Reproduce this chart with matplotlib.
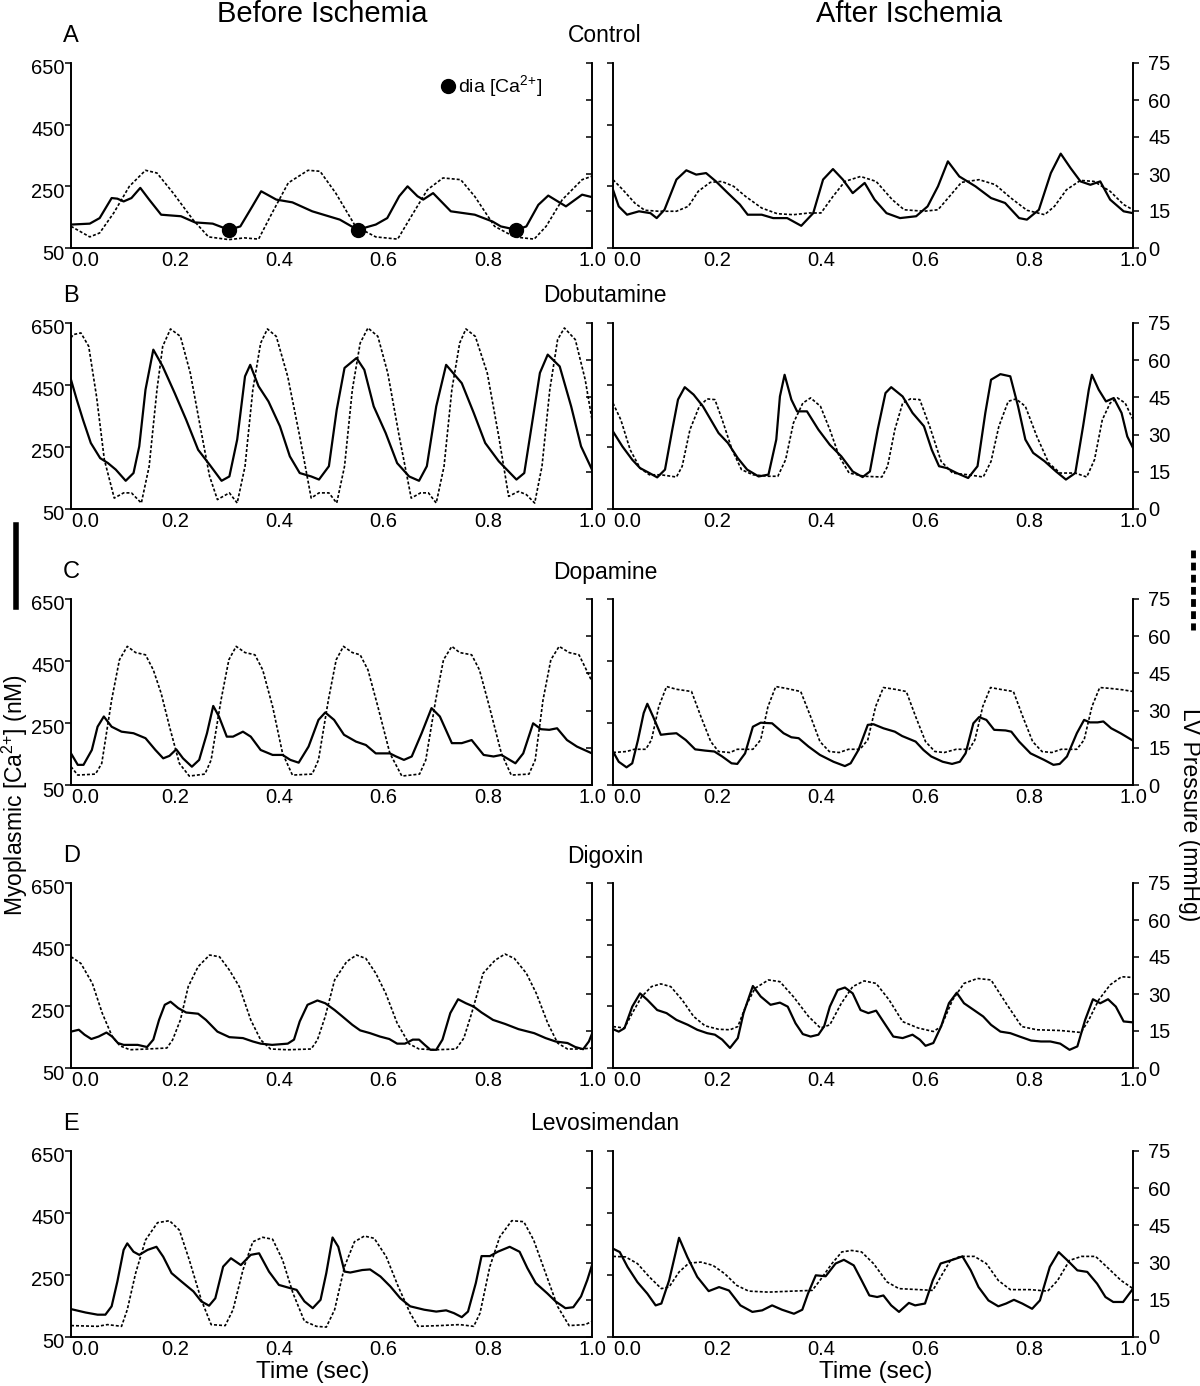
import matplotlib
matplotlib.use("Agg")
import matplotlib.pyplot as plt
import matplotlib.transforms as mtransforms
from matplotlib.lines import Line2D

plt.rcParams["font.family"] = ["Liberation Sans", "DejaVu Sans"]
plt.rcParams["mathtext.fontset"] = "custom"
plt.rcParams["mathtext.rm"] = "Liberation Sans"
plt.rcParams["mathtext.default"] = "regular"

# ---- data: time (s), myoplasmic Ca (nM), LV pressure (mmHg) ----
# Control, before ischemia
t_ctrl_pre_ca = [0.0, 0.036, 0.055, 0.078, 0.089, 0.101, 0.116, 0.133, 0.150, 0.173, 0.211, 0.238, 0.272, 0.303,
                 0.325, 0.348, 0.365, 0.394, 0.425, 0.463, 0.516, 0.550, 0.585, 0.607, 0.630, 0.646, 0.665, 0.676,
                 0.695, 0.729, 0.775, 0.809, 0.825, 0.855, 0.874, 0.897, 0.916, 0.950, 0.981, 1.0]
ca_ctrl_pre = [126, 129, 147, 212, 210, 201, 212, 245, 207, 158, 153, 133, 129, 109, 120, 185, 234, 207, 198, 169,
               142, 109, 126, 147, 218, 250, 218, 207, 228, 169, 158, 136, 120, 109, 120, 190, 220, 185, 223, 215]
t_ctrl_pre_p = [0.0, 0.036, 0.055, 0.082, 0.112, 0.143, 0.165, 0.196, 0.234, 0.264, 0.303, 0.333, 0.360, 0.386,
                0.417, 0.455, 0.478, 0.508, 0.546, 0.585, 0.627, 0.653, 0.684, 0.714, 0.748, 0.775, 0.813, 0.851,
                0.889, 0.912, 0.943, 0.981, 1.0]
p_ctrl_pre = [8.8, 4.5, 6.1, 14.2, 25.0, 31.5, 30.4, 22.3, 11.5, 4.5, 3.4, 4.1, 3.6, 14.2, 26.4, 31.5, 31.1, 22.3,
              8.8, 4.5, 3.6, 12.8, 23.6, 28.4, 27.7, 20.9, 8.8, 4.5, 3.6, 8.8, 19.6, 27.7, 29.1]
dia_t = [0.303, 0.550, 0.855]
dia_ca = [109, 109, 109]

# Control, after ischemia
t_ctrl_post_ca = [0.0, 0.011, 0.027, 0.050, 0.072, 0.084, 0.099, 0.122, 0.141, 0.160, 0.179, 0.198, 0.221, 0.244,
                  0.259, 0.286, 0.308, 0.335, 0.362, 0.385, 0.404, 0.423, 0.442, 0.461, 0.484, 0.503, 0.526, 0.552,
                  0.583, 0.605, 0.625, 0.644, 0.666, 0.697, 0.727, 0.754, 0.781, 0.796, 0.819, 0.842, 0.861, 0.880,
                  0.899, 0.918, 0.937, 0.956, 0.982, 1.0]
ca_ctrl_post = [239, 185, 158, 169, 163, 147, 174, 272, 302, 288, 293, 266, 228, 191, 158, 158, 147, 147, 122, 163,
                272, 306, 272, 228, 261, 207, 163, 147, 153, 185, 250, 331, 282, 250, 212, 196, 147, 142, 174, 293,
                356, 309, 266, 255, 266, 207, 169, 163]
t_ctrl_post_p = [0.0, 0.019, 0.042, 0.061, 0.088, 0.122, 0.145, 0.164, 0.187, 0.209, 0.232, 0.255, 0.286, 0.316,
                 0.347, 0.377, 0.400, 0.423, 0.446, 0.476, 0.506, 0.537, 0.560, 0.598, 0.625, 0.647, 0.670, 0.704,
                 0.735, 0.765, 0.796, 0.830, 0.849, 0.872, 0.899, 0.925, 0.956, 0.982, 1.0]
p_ctrl_post = [27.7, 23.6, 18.2, 15.3, 14.9, 14.9, 16.9, 23.0, 26.6, 27.0, 25.0, 20.9, 16.2, 13.9, 13.5, 14.2, 14.2,
               20.9, 27.0, 29.0, 27.0, 19.6, 15.5, 14.9, 15.5, 20.9, 26.6, 27.7, 25.7, 20.3, 15.3, 13.5, 16.9, 23.6,
               27.4, 27.0, 23.0, 17.6, 15.5]

# Dobutamine
t_dobu_pre_ca = [0.0, 0.011, 0.023, 0.038, 0.056, 0.071, 0.086, 0.105, 0.120, 0.131, 0.143, 0.158, 0.176, 0.199,
                 0.221, 0.244, 0.266, 0.289, 0.304, 0.319, 0.334, 0.344, 0.360, 0.379, 0.401, 0.420, 0.439, 0.461,
                 0.476, 0.495, 0.510, 0.525, 0.548, 0.563, 0.581, 0.604, 0.626, 0.649, 0.668, 0.683, 0.701, 0.720,
                 0.750, 0.773, 0.795, 0.821, 0.840, 0.855, 0.870, 0.885, 0.900, 0.915, 0.938, 0.960, 0.979, 1.0]
ca_dobu_pre = [467, 403, 338, 263, 214, 198, 177, 141, 166, 252, 435, 564, 510, 424, 338, 241, 193, 141, 155, 274,
               478, 515, 446, 397, 317, 220, 166, 155, 145, 188, 370, 505, 537, 499, 381, 295, 198, 155, 141, 188,
               381, 515, 456, 360, 263, 204, 171, 145, 166, 327, 489, 548, 510, 381, 252, 177]
t_dobu_pre_p = [0.0, 0.004, 0.019, 0.034, 0.049, 0.064, 0.083, 0.101, 0.116, 0.135, 0.150, 0.165, 0.176, 0.191,
                0.210, 0.229, 0.248, 0.266, 0.281, 0.304, 0.319, 0.334, 0.349, 0.364, 0.377, 0.394, 0.416, 0.439,
                0.461, 0.476, 0.495, 0.510, 0.525, 0.540, 0.555, 0.570, 0.589, 0.608, 0.630, 0.653, 0.671, 0.686,
                0.701, 0.716, 0.731, 0.746, 0.758, 0.776, 0.799, 0.821, 0.840, 0.859, 0.874, 0.890, 0.904, 0.919,
                0.934, 0.947, 0.968, 0.987, 1.0]
p_dobu_pre = [69.0, 70.3, 71.0, 65.6, 45.4, 19.9, 4.4, 6.5, 6.5, 2.4, 17.2, 48.1, 65.6, 72.6, 69.6, 54.8, 33.3,
              13.2, 3.8, 6.5, 2.4, 17.2, 48.1, 66.9, 72.6, 69.6, 53.4, 29.3, 4.4, 6.5, 6.5, 2.4, 17.2, 48.1, 66.9,
              73.0, 69.6, 54.8, 29.3, 4.4, 6.5, 6.5, 2.4, 17.2, 48.1, 66.9, 72.6, 69.6, 54.8, 29.3, 5.1, 7.1, 5.8,
              2.4, 17.2, 48.1, 68.3, 73.0, 68.3, 52.1, 36.0]
t_dobu_post_ca = [0.0, 0.018, 0.037, 0.052, 0.070, 0.085, 0.100, 0.114, 0.125, 0.138, 0.155, 0.173, 0.188, 0.203,
                  0.221, 0.240, 0.258, 0.280, 0.299, 0.314, 0.321, 0.330, 0.343, 0.354, 0.373, 0.395, 0.417, 0.439,
                  0.461, 0.480, 0.494, 0.509, 0.524, 0.535, 0.557, 0.576, 0.598, 0.613, 0.627, 0.642, 0.661, 0.683,
                  0.701, 0.716, 0.727, 0.745, 0.764, 0.779, 0.793, 0.808, 0.830, 0.852, 0.871, 0.889, 0.904, 0.915,
                  0.921, 0.934, 0.948, 0.963, 0.978, 0.989, 1.0]
ca_dobu_post = [300, 252, 209, 182, 166, 152, 177, 306, 403, 443, 419, 381, 338, 295, 263, 214, 177, 155, 161, 274,
                413, 483, 403, 365, 365, 306, 257, 220, 171, 153, 171, 306, 424, 443, 413, 360, 317, 241, 188, 182,
                166, 150, 188, 360, 467, 485, 478, 381, 274, 231, 204, 171, 145, 166, 317, 435, 483, 435, 397, 408,
                360, 284, 247]
t_dobu_post_p = [0.0, 0.015, 0.033, 0.052, 0.070, 0.092, 0.122, 0.133, 0.148, 0.166, 0.181, 0.196, 0.210, 0.229,
                 0.247, 0.269, 0.299, 0.317, 0.332, 0.347, 0.365, 0.380, 0.399, 0.417, 0.435, 0.454, 0.483, 0.517,
                 0.528, 0.542, 0.557, 0.572, 0.590, 0.609, 0.631, 0.653, 0.683, 0.712, 0.727, 0.742, 0.760, 0.775,
                 0.793, 0.815, 0.838, 0.860, 0.889, 0.911, 0.926, 0.941, 0.956, 0.970, 0.985, 1.0]
p_dobu_post = [42.7, 36.0, 23.9, 16.5, 13.8, 13.8, 12.9, 17.2, 32.0, 41.4, 44.4, 44.1, 36.0, 23.9, 15.9, 13.8, 13.2,
               13.2, 19.9, 34.7, 42.7, 44.8, 41.4, 32.0, 21.2, 14.5, 13.2, 12.9, 17.2, 32.0, 42.7, 44.4, 44.1, 33.3,
               19.2, 14.5, 13.8, 12.9, 19.2, 33.3, 43.4, 44.4, 41.4, 29.3, 18.5, 14.5, 14.5, 12.9, 19.9, 36.0, 42.7,
               44.8, 42.7, 36.0]

# Dopamine
t_dopa_pre_ca = [0.0, 0.013, 0.024, 0.040, 0.051, 0.063, 0.078, 0.097, 0.120, 0.143, 0.162, 0.177, 0.189, 0.202,
                 0.215, 0.232, 0.246, 0.261, 0.273, 0.284, 0.299, 0.311, 0.330, 0.345, 0.364, 0.387, 0.406, 0.421,
                 0.437, 0.456, 0.475, 0.488, 0.505, 0.524, 0.547, 0.566, 0.585, 0.612, 0.624, 0.639, 0.654, 0.673,
                 0.692, 0.708, 0.731, 0.750, 0.769, 0.792, 0.811, 0.826, 0.837, 0.853, 0.868, 0.887, 0.902, 0.918,
                 0.933, 0.952, 0.971, 1.0]
ca_dopa_pre = [152, 115, 115, 163, 238, 271, 238, 222, 217, 201, 163, 136, 144, 165, 136, 109, 131, 217, 305, 271,
               206, 206, 222, 206, 163, 147, 147, 131, 122, 174, 260, 284, 260, 212, 190, 179, 152, 152, 142, 131,
               142, 217, 298, 271, 185, 185, 195, 147, 142, 147, 136, 120, 152, 249, 230, 228, 233, 195, 174, 152]
t_dopa_pre_p = [0.0, 0.013, 0.047, 0.059, 0.078, 0.093, 0.108, 0.124, 0.143, 0.158, 0.173, 0.189, 0.208, 0.227,
                0.257, 0.269, 0.288, 0.303, 0.317, 0.334, 0.353, 0.368, 0.387, 0.406, 0.425, 0.463, 0.475, 0.494,
                0.509, 0.523, 0.540, 0.555, 0.570, 0.589, 0.612, 0.635, 0.669, 0.681, 0.700, 0.715, 0.731, 0.746,
                0.769, 0.784, 0.803, 0.826, 0.845, 0.879, 0.891, 0.906, 0.921, 0.937, 0.956, 0.975, 0.986, 1.0]
p_dopa_pre = [7.4, 4.0, 4.4, 8.7, 34.3, 50.5, 55.9, 53.4, 52.5, 46.4, 37.0, 23.6, 8.7, 3.6, 4.4, 10.1, 34.3, 50.5,
              55.9, 53.4, 52.5, 46.4, 31.6, 12.8, 4.0, 4.4, 10.1, 34.3, 50.5, 55.9, 53.4, 52.5, 46.4, 31.6, 12.8,
              3.6, 4.4, 10.1, 34.3, 50.5, 55.9, 53.4, 52.5, 46.4, 31.6, 12.8, 4.0, 4.4, 10.1, 34.3, 50.5, 55.9,
              53.4, 52.5, 47.8, 41.7]
t_dopa_post_ca = [0.0, 0.011, 0.026, 0.037, 0.048, 0.059, 0.066, 0.077, 0.092, 0.107, 0.122, 0.140, 0.158, 0.177,
                  0.195, 0.210, 0.228, 0.239, 0.254, 0.269, 0.284, 0.306, 0.328, 0.343, 0.357, 0.376, 0.398, 0.424,
                  0.446, 0.457, 0.472, 0.490, 0.501, 0.520, 0.542, 0.556, 0.582, 0.597, 0.612, 0.634, 0.652, 0.667,
                  0.678, 0.693, 0.704, 0.718, 0.733, 0.755, 0.766, 0.781, 0.803, 0.829, 0.847, 0.859, 0.873, 0.892,
                  0.906, 0.917, 0.932, 0.943, 0.958, 0.976, 1.0]
ca_dopa_post = [158, 125, 107, 120, 195, 282, 312, 271, 212, 215, 217, 195, 165, 161, 158, 142, 120, 118, 152, 238,
                251, 249, 217, 204, 201, 174, 147, 125, 111, 120, 163, 244, 246, 233, 222, 208, 190, 163, 142, 125,
                118, 125, 152, 249, 269, 260, 228, 226, 222, 190, 152, 131, 115, 118, 142, 217, 260, 252, 252, 255,
                233, 217, 193]
t_dopa_post_p = [0.0, 0.026, 0.041, 0.063, 0.074, 0.088, 0.103, 0.122, 0.151, 0.169, 0.188, 0.203, 0.225, 0.239,
                 0.269, 0.284, 0.298, 0.313, 0.332, 0.361, 0.380, 0.398, 0.416, 0.435, 0.453, 0.475, 0.490, 0.505,
                 0.520, 0.542, 0.564, 0.582, 0.601, 0.619, 0.637, 0.660, 0.685, 0.696, 0.711, 0.726, 0.744, 0.770,
                 0.788, 0.807, 0.825, 0.844, 0.862, 0.892, 0.906, 0.921, 0.936, 0.954, 0.980, 1.0]
p_dopa_post = [13.1, 13.5, 14.4, 14.4, 18.2, 31.6, 39.7, 38.6, 37.7, 27.6, 17.5, 13.5, 13.1, 14.4, 14.4, 18.2, 31.6,
               39.7, 39.0, 37.7, 27.6, 17.5, 13.5, 13.1, 14.4, 14.4, 18.2, 31.6, 39.3, 38.6, 37.7, 27.6, 17.5, 13.5,
               13.1, 14.4, 14.4, 18.2, 31.6, 39.3, 38.6, 37.7, 27.6, 17.5, 13.5, 13.1, 14.4, 14.4, 18.2, 31.6, 39.3,
               39.0, 38.4, 37.7]

# Digoxin
t_digo_pre_ca = [0.0, 0.015, 0.026, 0.039, 0.053, 0.068, 0.079, 0.090, 0.101, 0.128, 0.146, 0.158, 0.169, 0.180,
                 0.191, 0.206, 0.221, 0.244, 0.259, 0.281, 0.304, 0.330, 0.349, 0.364, 0.386, 0.416, 0.428, 0.439,
                 0.454, 0.473, 0.488, 0.506, 0.521, 0.540, 0.555, 0.574, 0.593, 0.611, 0.626, 0.641, 0.656, 0.668,
                 0.679, 0.690, 0.701, 0.713, 0.728, 0.743, 0.758, 0.773, 0.788, 0.810, 0.833, 0.859, 0.889, 0.911,
                 0.930, 0.953, 0.968, 0.983, 0.994, 1.0]
ca_digo_pre = [168, 174, 158, 144, 152, 165, 152, 131, 125, 125, 118, 142, 206, 255, 265, 244, 230, 226, 206, 168,
               150, 147, 136, 129, 125, 129, 142, 201, 255, 269, 260, 238, 217, 190, 172, 163, 152, 144, 129, 129,
               142, 142, 125, 109, 109, 142, 228, 273, 260, 249, 230, 206, 193, 176, 163, 147, 136, 131, 118, 111,
               136, 161]
t_digo_pre_p = [0.0, 0.019, 0.041, 0.060, 0.079, 0.094, 0.113, 0.146, 0.184, 0.195, 0.210, 0.225, 0.244, 0.266,
                0.285, 0.304, 0.323, 0.345, 0.364, 0.383, 0.416, 0.461, 0.473, 0.488, 0.506, 0.529, 0.548, 0.566,
                0.585, 0.604, 0.626, 0.649, 0.668, 0.701, 0.739, 0.754, 0.769, 0.791, 0.814, 0.833, 0.851, 0.874,
                0.893, 0.915, 0.934, 0.953, 0.979, 1.0]
p_digo_pre = [45.1, 42.4, 34.3, 22.2, 12.8, 9.0, 7.4, 7.7, 8.1, 11.4, 19.5, 33.0, 41.1, 45.8, 45.1, 39.7, 33.0,
              19.5, 11.4, 7.7, 7.4, 7.7, 11.4, 20.9, 35.7, 43.1, 45.8, 44.4, 38.4, 30.3, 18.2, 9.8, 7.7, 7.4, 7.7,
              12.1, 22.2, 38.4, 43.7, 46.2, 44.4, 38.4, 30.3, 18.2, 10.1, 7.7, 7.7, 8.1]
t_digo_post_ca = [0.0, 0.011, 0.022, 0.037, 0.052, 0.066, 0.085, 0.103, 0.122, 0.144, 0.162, 0.181, 0.196, 0.210,
                  0.225, 0.240, 0.251, 0.262, 0.269, 0.284, 0.303, 0.321, 0.336, 0.351, 0.365, 0.380, 0.395, 0.406,
                  0.417, 0.432, 0.446, 0.461, 0.476, 0.491, 0.506, 0.524, 0.539, 0.557, 0.576, 0.590, 0.601, 0.616,
                  0.631, 0.646, 0.661, 0.675, 0.694, 0.712, 0.727, 0.745, 0.764, 0.782, 0.804, 0.823, 0.841, 0.860,
                  0.878, 0.893, 0.908, 0.923, 0.937, 0.952, 0.967, 0.982, 1.0]
ca_digo_post = [176, 168, 179, 249, 292, 271, 238, 228, 206, 190, 174, 163, 158, 142, 115, 147, 228, 282, 316, 282,
                255, 262, 249, 195, 160, 152, 158, 185, 249, 303, 311, 292, 238, 228, 236, 190, 152, 147, 158, 142,
                122, 131, 185, 260, 294, 260, 238, 217, 190, 168, 163, 152, 139, 136, 136, 129, 109, 120, 206, 273,
                260, 273, 249, 201, 198]
t_digo_post_p = [0.0, 0.022, 0.037, 0.055, 0.074, 0.092, 0.111, 0.133, 0.155, 0.177, 0.203, 0.225, 0.240, 0.255,
                 0.273, 0.299, 0.321, 0.347, 0.376, 0.399, 0.417, 0.439, 0.461, 0.483, 0.506, 0.531, 0.557, 0.587,
                 0.616, 0.631, 0.653, 0.675, 0.701, 0.727, 0.756, 0.786, 0.815, 0.860, 0.900, 0.915, 0.934, 0.956,
                 0.978, 1.0]
p_digo_post = [16.8, 16.2, 22.2, 28.9, 33.0, 34.1, 33.0, 27.6, 20.9, 17.1, 15.7, 15.5, 16.8, 24.9, 32.3, 35.7, 35.0,
               28.9, 20.9, 16.2, 17.5, 26.2, 33.0, 35.3, 34.3, 27.6, 18.8, 16.2, 14.8, 16.8, 27.6, 34.3, 36.3, 35.7,
               26.2, 16.8, 15.5, 15.2, 14.4, 19.5, 27.6, 33.7, 37.0, 36.7]

# Levosimendan
t_levo_pre_ca = [0.0, 0.028, 0.051, 0.066, 0.078, 0.089, 0.101, 0.108, 0.120, 0.131, 0.147, 0.164, 0.177, 0.193,
                 0.212, 0.235, 0.250, 0.265, 0.277, 0.292, 0.307, 0.326, 0.345, 0.361, 0.380, 0.399, 0.422, 0.433,
                 0.448, 0.464, 0.479, 0.490, 0.502, 0.513, 0.525, 0.536, 0.559, 0.574, 0.594, 0.613, 0.632, 0.651,
                 0.678, 0.701, 0.720, 0.735, 0.750, 0.762, 0.777, 0.788, 0.804, 0.819, 0.842, 0.861, 0.876, 0.892,
                 0.914, 0.930, 0.949, 0.964, 0.979, 0.991, 1.0]
ca_levo_pre = [140, 129, 122, 122, 149, 229, 331, 352, 325, 315, 331, 341, 309, 256, 229, 197, 165, 151, 175, 277,
               304, 282, 315, 320, 261, 218, 207, 202, 165, 143, 170, 256, 371, 341, 261, 258, 266, 268, 245, 213,
               175, 149, 138, 132, 136, 127, 114, 132, 224, 311, 311, 325, 341, 325, 272, 224, 191, 165, 143, 146,
               181, 234, 282]
t_levo_pre_p = [0.0, 0.051, 0.070, 0.097, 0.108, 0.124, 0.143, 0.166, 0.189, 0.208, 0.227, 0.250, 0.269, 0.296,
                0.311, 0.330, 0.349, 0.368, 0.387, 0.406, 0.426, 0.448, 0.471, 0.490, 0.506, 0.525, 0.544, 0.563,
                0.582, 0.605, 0.628, 0.651, 0.666, 0.708, 0.746, 0.773, 0.785, 0.804, 0.823, 0.846, 0.869, 0.888,
                0.911, 0.934, 0.956, 0.987, 1.0]
p_levo_pre = [4.6, 4.3, 5.0, 4.3, 11.0, 25.7, 39.1, 46.1, 46.9, 43.1, 31.1, 15.0, 5.0, 4.6, 11.0, 27.0, 38.4, 40.2,
              39.4, 31.1, 17.7, 6.4, 4.3, 4.0, 11.0, 28.4, 38.4, 40.7, 39.8, 32.4, 20.4, 9.6, 4.3, 4.6, 5.0, 4.3,
              9.6, 28.4, 40.4, 46.9, 46.5, 39.1, 25.7, 12.3, 4.6, 5.0, 6.3]
t_levo_post_ca = [0.0, 0.013, 0.028, 0.047, 0.066, 0.082, 0.093, 0.108, 0.120, 0.127, 0.143, 0.162, 0.184, 0.204,
                  0.223, 0.245, 0.268, 0.287, 0.306, 0.325, 0.348, 0.364, 0.375, 0.390, 0.409, 0.428, 0.444, 0.463,
                  0.478, 0.493, 0.508, 0.520, 0.535, 0.550, 0.569, 0.581, 0.600, 0.615, 0.630, 0.653, 0.672, 0.688,
                  0.703, 0.722, 0.741, 0.756, 0.771, 0.787, 0.806, 0.821, 0.840, 0.857, 0.874, 0.893, 0.912, 0.931,
                  0.947, 0.962, 0.981, 1.0]
ca_levo_post = [335, 324, 276, 227, 190, 152, 158, 233, 319, 370, 308, 244, 198, 211, 200, 152, 131, 136, 152, 138,
                125, 138, 190, 249, 246, 287, 299, 281, 233, 184, 179, 184, 152, 131, 160, 152, 158, 233, 287, 299,
                310, 265, 211, 168, 149, 158, 170, 158, 141, 168, 276, 324, 297, 265, 260, 222, 179, 163, 163, 206]
t_levo_post_p = [0.0, 0.024, 0.047, 0.070, 0.093, 0.108, 0.127, 0.146, 0.169, 0.192, 0.215, 0.238, 0.261, 0.299,
                 0.345, 0.383, 0.398, 0.421, 0.440, 0.459, 0.478, 0.501, 0.527, 0.550, 0.588, 0.615, 0.630, 0.649,
                 0.668, 0.695, 0.718, 0.741, 0.764, 0.802, 0.836, 0.855, 0.878, 0.901, 0.928, 0.950, 0.977, 1.0]
p_levo_post = [32.5, 32.3, 29.6, 24.2, 19.5, 20.2, 26.2, 29.8, 30.2, 28.9, 25.5, 20.8, 18.5, 18.1, 18.5, 18.8, 22.8,
               29.6, 34.3, 34.9, 34.3, 29.6, 22.2, 19.5, 19.1, 18.8, 24.2, 30.9, 32.5, 32.5, 29.6, 22.8, 19.1, 19.1,
               18.5, 22.8, 30.9, 32.5, 32.5, 28.2, 22.8, 19.5]

letters = ["A", "B", "C", "D", "E"]
drugs = ["Control", "Dobutamine", "Dopamine", "Digoxin", "Levosimendan"]
pre_sets = [(t_ctrl_pre_ca, ca_ctrl_pre, t_ctrl_pre_p, p_ctrl_pre),
            (t_dobu_pre_ca, ca_dobu_pre, t_dobu_pre_p, p_dobu_pre),
            (t_dopa_pre_ca, ca_dopa_pre, t_dopa_pre_p, p_dopa_pre),
            (t_digo_pre_ca, ca_digo_pre, t_digo_pre_p, p_digo_pre),
            (t_levo_pre_ca, ca_levo_pre, t_levo_pre_p, p_levo_pre)]
post_sets = [(t_ctrl_post_ca, ca_ctrl_post, t_ctrl_post_p, p_ctrl_post),
             (t_dobu_post_ca, ca_dobu_post, t_dobu_post_p, p_dobu_post),
             (t_dopa_post_ca, ca_dopa_post, t_dopa_post_p, p_dopa_post),
             (t_digo_post_ca, ca_digo_post, t_digo_post_p, p_digo_post),
             (t_levo_post_ca, ca_levo_post, t_levo_post_p, p_levo_post)]
ca_ticks = [50, 250, 450, 650]
p_ticks = [0, 15, 30, 45, 60, 75]
x_ticks = [0.0, 0.2, 0.4, 0.6, 0.8, 1.0]

# ---- layout (pixel boxes measured on the 1200x1386 original) ----
W, H = 1200, 1386
row_px = [(63, 248), (323, 509), (599, 785), (883, 1068), (1151, 1337)]
col_px = [(71, 592), (613, 1133)]


def box(x0, x1, y0, y1):
    return [x0 / W, 1 - y1 / H, (x1 - x0) / W, (y1 - y0) / H]


fig = plt.figure(figsize=(12, 13.86), dpi=100)
TICK = 14.5
down = mtransforms.ScaledTranslation(0, -4 / 100, fig.dpi_scale_trans)

for r in range(5):
    y0, y1 = row_px[r]
    for c, data in enumerate((pre_sets[r], post_sets[r])):
        tc, ca, tp, p = data
        x0, x1 = col_px[c]
        ax = fig.add_axes(box(x0, x1, y0, y1))
        ax2 = ax.twinx()
        ax.plot(tc, ca, color="black", lw=1.6, solid_joinstyle="round")
        ax2.plot(tp, p, color="black", lw=1.2, dashes=(1.8, 1.2))
        ax.set_xlim(0, 1)
        ax.set_ylim(50, 650)
        ax2.set_ylim(0, 75)
        ax.set_xticks(x_ticks)
        ax.set_xticklabels([f"{v:.1f}" for v in x_ticks])
        ax.set_yticks(ca_ticks)
        ax2.set_yticks(p_ticks)
        for a in (ax, ax2):
            a.spines["top"].set_visible(False)
            for s in ("left", "right", "bottom"):
                a.spines[s].set_linewidth(1.2)
        ax.tick_params(axis="x", length=0, pad=2, labelsize=TICK)
        ax.get_xticklabels()[0].set_ha("left")
        if c == 0:
            ax.tick_params(axis="y", direction="out", length=4, width=1.1, pad=0.5, labelsize=TICK)
            ax2.tick_params(axis="y", direction="in", length=4, width=1.1, labelright=False)
            for lab in ax.get_yticklabels():
                lab.set_transform(lab.get_transform() + down)
        else:
            ax.tick_params(axis="y", direction="out", length=4, width=1.1, labelleft=False)
            ax2.tick_params(axis="y", direction="out", length=4, width=1.1, pad=7, labelsize=TICK)
        if r == 0 and c == 0:
            ax.plot(dia_t, dia_ca, "o", color="black", ms=10, zorder=5)
            ax.plot([0.724], [0.876], "o", color="black", ms=10, transform=ax.transAxes)
            ax.text(0.742, 0.876, "dia [Ca$^{2{+}}$]", transform=ax.transAxes, fontsize=14, va="center")
        if r == 4:
            fig.text((313 if c == 0 else 876) / W, 1 - 1372 / H, "Time (sec)", fontsize=17.5,
                     ha="center", va="center")
    fig.text(63 / W, 1 - (y0 - 27) / H, letters[r], fontsize=17, ha="left", va="center")
    fig.text(605 / W, 1 - (y0 - 27) / H, drugs[r], fontsize=16.5, ha="center", va="center")

fig.text(322 / W, 1 - 14 / H, "Before Ischemia", fontsize=21, ha="center", va="center")
fig.text(909 / W, 1 - 14 / H, "After Ischemia", fontsize=21, ha="center", va="center")
fig.text(15 / W, 1 - 795 / H, "Myoplasmic [Ca$^{2{+}}$] (nM)", fontsize=16.5, rotation=90,
         ha="center", va="center")
fig.text(1190 / W, 1 - 815 / H, "LV Pressure (mmHg)", fontsize=16.5, rotation=270,
         ha="center", va="center")
fig.add_artist(Line2D([16 / W, 16 / W], [1 - 525 / H, 1 - 607 / H], lw=4, color="black"))
fig.add_artist(Line2D([1193 / W, 1193 / W], [1 - 550 / H, 1 - 630 / H], lw=3.5, color="black",
                      dashes=(1.6, 0.9)))

fig.savefig("out.png", dpi=100)
